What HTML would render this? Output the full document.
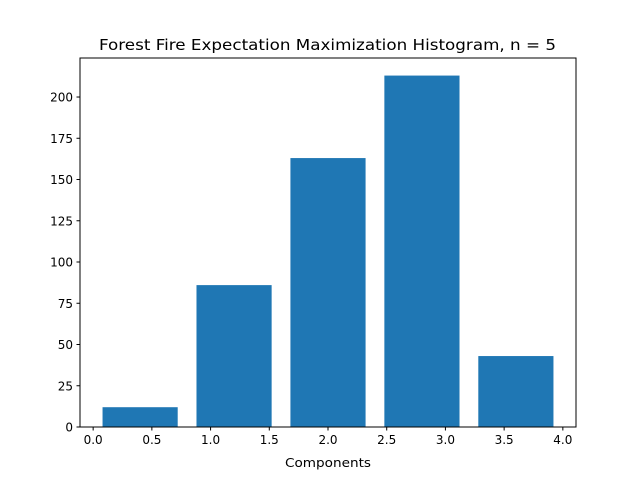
<!DOCTYPE html>
<html><head><meta charset="utf-8"><style>body{margin:0;background:#fff}svg{display:block;font-family:"DejaVu Sans","Liberation Sans",sans-serif}</style></head>
<body>
<svg id="chart" width="640" height="480">
<rect x="0" y="0" width="640" height="480" fill="#fff"/>
<text x="99" y="50" textLength="457" lengthAdjust="spacingAndGlyphs" font-size="15">Forest Fire Expectation Maximization Histogram, n = 5</text>
<g id="bars"></g><g id="xt"></g><g id="yt"></g>
<rect x="80" y="58" width="496" height="369" fill="none" stroke="#000" stroke-width="1"/>
<text x="285" y="467" textLength="86" lengthAdjust="spacingAndGlyphs" font-size="12.5">Components</text>
</svg>
<script>
const binEdges = [0, 0.8, 1.6, 2.4, 3.2, 4.0];
const counts = [12, 86, 163, 213, 43];
const xTicks = ["0.0","0.5","1.0","1.5","2.0","2.5","3.0","3.5","4.0"];
const yTicks = [0, 25, 50, 75, 100, 125, 150, 175, 200];
const L=80,R=576,T=58,B=427;
const xmin=-0.112,xmax=4.112,ymax=Math.max(...counts)*1.05;
const sx=v=>L+(v-xmin)/(xmax-xmin)*(R-L);
const sy=v=>B-v/ymax*(B-T);
const ns="http://www.w3.org/2000/svg";
function mk(t,a,p){const e=document.createElementNS(ns,t);for(const k in a)e.setAttribute(k,a[k]);p.appendChild(e);return e;}
const gb=document.getElementById('bars');
counts.forEach((c,i)=>{const w=binEdges[i+1]-binEdges[i];const x0=binEdges[i]+w*0.1,x1=binEdges[i+1]-w*0.1;
const r=mk('rect',{x:sx(x0),y:sy(c),width:sx(x1)-sx(x0),height:B-sy(c),fill:'#1f77b4'},gb);

});
const gx=document.getElementById('xt');
xTicks.forEach(t=>{const x=sx(parseFloat(t));
mk('line',{x1:x,x2:x,y1:B,y2:B+3.5,stroke:'#000'},gx);
const tx=mk('text',{x:x,y:B+17,'text-anchor':'middle','font-size':12},gx);tx.textContent=t;

});
const gy=document.getElementById('yt');
yTicks.forEach(t=>{const y=sy(t);
mk('line',{x1:L-3.5,x2:L,y1:y,y2:y,stroke:'#000'},gy);
const tx=mk('text',{x:L-7,y:y+4.5,'text-anchor':'end','font-size':12},gy);tx.textContent=t;

});
</script>
</body></html>
